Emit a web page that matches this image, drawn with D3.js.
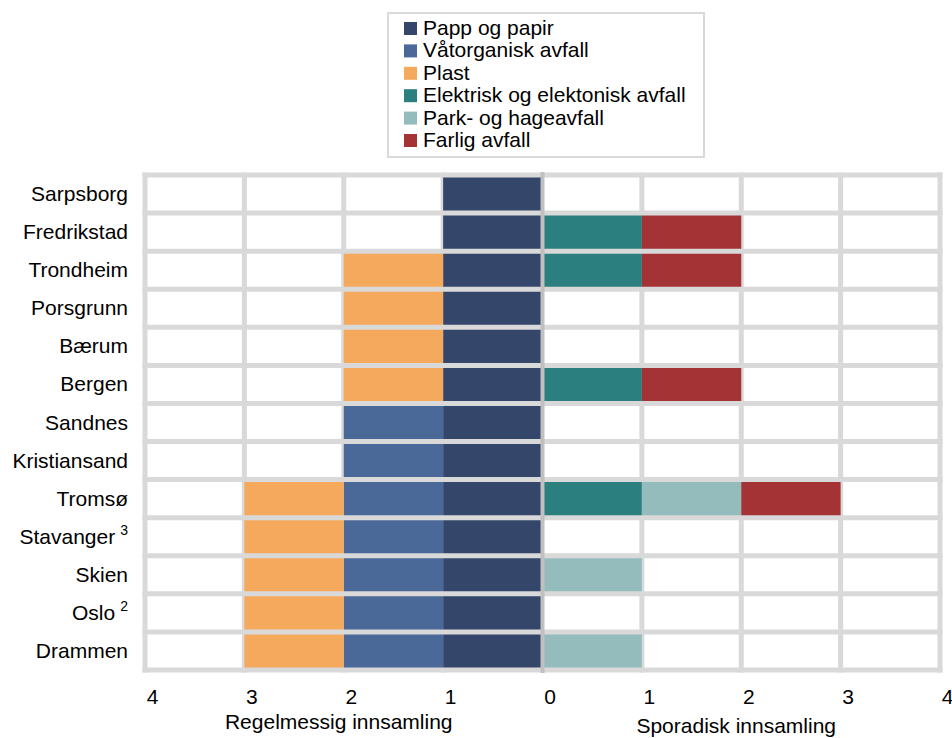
<!DOCTYPE html>
<html>
<head>
<meta charset="utf-8">
<script src="https://cdn.jsdelivr.net/npm/d3@7"></script>
<style>
  body { margin: 0; background: #fff; }
  text { font-family: "Liberation Sans", Arial, sans-serif; fill: #000; }
</style>
</head>
<body>
<div id="chart"></div>
<script>
// cities top to bottom, sup = footnote mark
var cities = ["Sarpsborg", "Fredrikstad", "Trondheim", "Porsgrunn", "Bærum", "Bergen",
              "Sandnes", "Kristiansand", "Tromsø", "Stavanger", "Skien", "Oslo", "Drammen"];
var footnotes = {"Stavanger": "3", "Oslo": "2"};

// regular collection (drawn leftwards from 0)
var pappPapir   = [1, 1, 1, 1, 1, 1, 1, 1, 1, 1, 1, 1, 1];
var vatorganisk = [0, 0, 0, 0, 0, 0, 1, 1, 1, 1, 1, 1, 1];
var plast       = [0, 0, 1, 1, 1, 1, 0, 0, 1, 1, 1, 1, 1];
// sporadic collection (drawn rightwards from 0)
var elektrisk   = [0, 1, 1, 0, 0, 1, 0, 0, 1, 0, 0, 0, 0];
var parkHage    = [0, 0, 0, 0, 0, 0, 0, 0, 1, 0, 1, 0, 1];
var farlig      = [0, 1, 1, 0, 0, 1, 0, 0, 1, 0, 0, 0, 0];

var tickValues = [-4, -3, -2, -1, 0, 1, 2, 3, 4];

var leftSeries  = [
    {name: "Papp og papir", values: pappPapir, color: "#34466a"},
    {name: "Våtorganisk avfall", values: vatorganisk, color: "#4a6898"},
    {name: "Plast", values: plast, color: "#f5a95d"}];
var rightSeries = [
    {name: "Elektrisk og elektonisk avfall", values: elektrisk, color: "#2b7f7e"},
    {name: "Park- og hageavfall", values: parkHage, color: "#95bcbc"},
    {name: "Farlig avfall", values: farlig, color: "#a33335"}];

var width = 952, height = 738;
var gridColor = "#d9d9d9";
var fontSize = "21px";

var svg = d3.select("#chart").append("svg")
            .attr("width", width)
            .attr("height", height);

var x = d3.scaleLinear().domain([-4, 4]).range([145, 940]);
var y = d3.scaleBand().domain(cities).range([175, 670]);

// plot background
svg.append("rect")
   .attr("x", x(-4)).attr("y", y.range()[0])
   .attr("width", x(4) - x(-4)).attr("height", y.range()[1] - y.range()[0])
   .style("fill", "#fff");

// vertical grid lines
svg.append("g").selectAll("line")
   .data(tickValues.filter(function(d) { return d !== 0; }))
   .join("line")
   .attr("x1", function(d) { return x(d); })
   .attr("x2", function(d) { return x(d); })
   .attr("y1", y.range()[0] - 2.5)
   .attr("y2", y.range()[1] + 2.5)
   .style("stroke", gridColor)
   .style("stroke-width", 5);

// stacked bars
function drawSide(series, sign) {
    var offsets = cities.map(function() { return 0; });
    series.forEach(function(s) {
        var g = svg.append("g");
        cities.forEach(function(c, i) {
            var v = s.values[i];
            if (!v) return;
            var a = offsets[i], b = offsets[i] + v;
            offsets[i] = b;
            var x0 = x(sign * a), x1 = x(sign * b);
            g.append("rect")
             .attr("x", Math.min(x0, x1))
             .attr("y", y(c))
             .attr("width", Math.abs(x1 - x0))
             .attr("height", y.bandwidth())
             .style("fill", s.color);
        });
    });
}
drawSide(leftSeries, -1);
drawSide(rightSeries, 1);

// horizontal grid lines (row separators)
var rowEdges = cities.map(function(c) { return y(c); }).concat([y.range()[1]]);
svg.append("g").selectAll("line")
   .data(rowEdges)
   .join("line")
   .attr("x1", x(-4) - 2.5)
   .attr("x2", x(4) + 2.5)
   .attr("y1", function(d) { return d; })
   .attr("y2", function(d) { return d; })
   .style("stroke", gridColor)
   .style("stroke-width", 5);

// zero line
svg.append("line")
   .attr("x1", x(0)).attr("x2", x(0))
   .attr("y1", y.range()[0] - 3).attr("y2", y.range()[1] + 3)
   .style("stroke", "#c0c0c0")
   .style("stroke-width", 4);

// category labels
var labels = svg.append("g").selectAll("text")
   .data(cities)
   .join("text")
   .attr("x", 128)
   .attr("y", function(d) { return y(d) + y.bandwidth() / 2 + 7; })
   .attr("text-anchor", "end")
   .style("font-size", fontSize);
labels.append("tspan").text(function(d) { return d; });
labels.filter(function(d) { return footnotes[d]; })
      .append("tspan")
      .attr("dx", 5)
      .attr("dy", -9)
      .style("font-size", "14px")
      .text(function(d) { return footnotes[d]; });

// x axis
var xAxis = d3.axisBottom(x)
              .tickValues(tickValues)
              .tickSize(0)
              .tickFormat(function(d) { return Math.abs(d); });
var xg = svg.append("g")
   .attr("transform", "translate(7," + (y.range()[1] + 16) + ")")
   .call(xAxis);
xg.select(".domain").remove();
xg.selectAll("text")
  .style("font-size", fontSize)
  .style("font-family", "'Liberation Sans', Arial, sans-serif")
  .attr("fill", "#000");

svg.append("text")
   .attr("x", (x(-4) + x(0)) / 2 - 5)
   .attr("y", 729)
   .attr("text-anchor", "middle")
   .style("font-size", fontSize)
   .text("Regelmessig innsamling");
svg.append("text")
   .attr("x", (x(0) + x(4)) / 2 - 5)
   .attr("y", 733)
   .attr("text-anchor", "middle")
   .style("font-size", fontSize)
   .text("Sporadisk innsamling");

// legend
var legendItems = leftSeries.concat(rightSeries);
var legend = svg.append("g");
legend.append("rect")
      .attr("x", 388).attr("y", 13)
      .attr("width", 316).attr("height", 144)
      .style("fill", "#fff")
      .style("stroke", "#d9d9d9")
      .style("stroke-width", 2);
var li = legend.selectAll("g.item")
      .data(legendItems)
      .join("g")
      .attr("class", "item")
      .attr("transform", function(d, i) { return "translate(404," + (28 + i * 22.4) + ")"; });
li.append("rect")
  .attr("x", 0).attr("y", -6)
  .attr("width", 13).attr("height", 13)
  .style("fill", function(d) { return d.color; });
li.append("text")
  .attr("x", 19).attr("y", 7)
  .style("font-size", fontSize)
  .text(function(d) { return d.name; });
</script>
</body>
</html>
